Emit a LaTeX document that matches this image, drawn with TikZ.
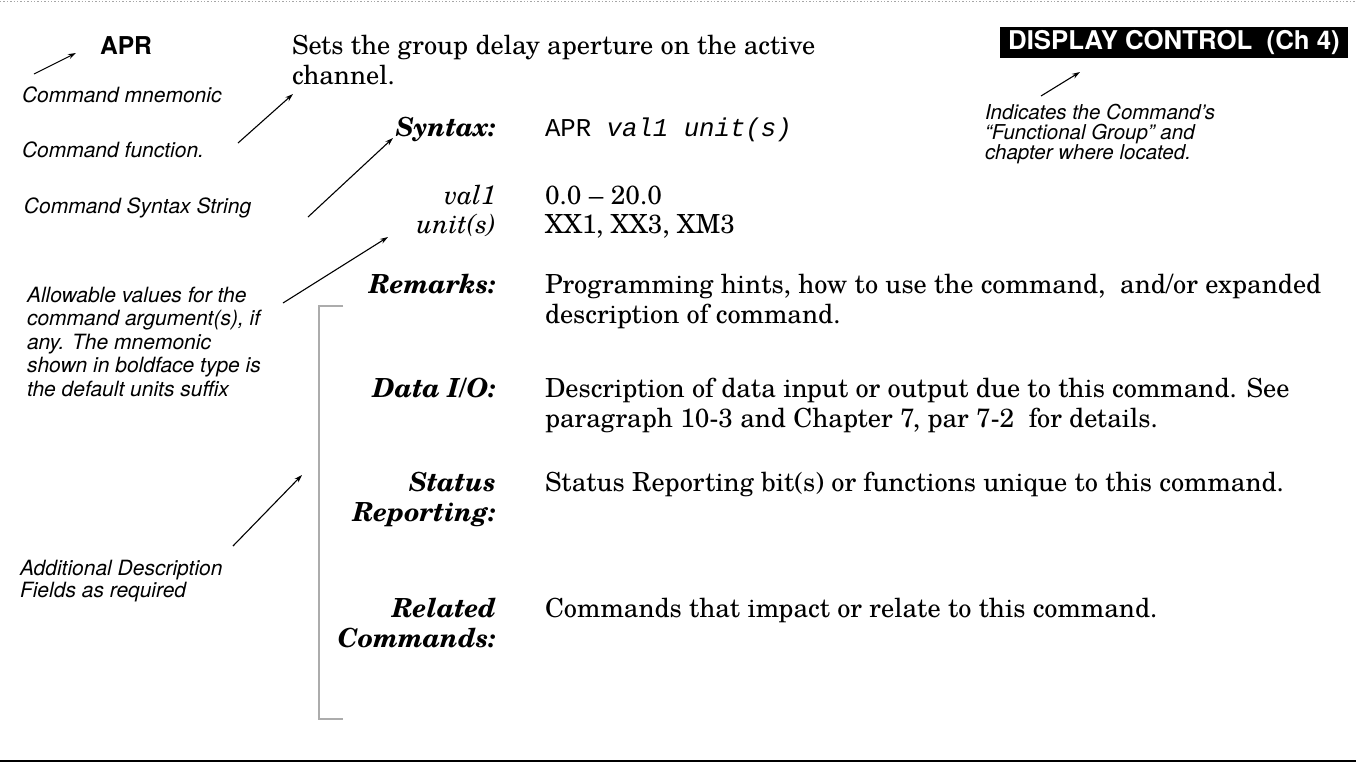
\documentclass[tikz,border=0pt]{standalone}
\usepackage{fontspec}
\setmainfont{TeX Gyre Schola}
\setsansfont{TeX Gyre Heros}
\setmonofont{Liberation Mono}
\usetikzlibrary{arrows.meta}

\begin{document}
\begin{tikzpicture}[x=0.5pt, y=-0.5pt,
  every node/.style={inner sep=0pt, outer sep=0pt},
  % multi-line nodes below are placed by the baseline of their last line
  note/.style={font=\sffamily\itshape\fontsize{10.5}{11.75}\selectfont, align=left, anchor=base west},
  fieldname/.style={font=\rmfamily\bfseries\itshape\fontsize{13.15}{15}\selectfont, align=right, anchor=base east},
  argname/.style={font=\rmfamily\itshape\fontsize{13.15}{15}\selectfont, align=right, anchor=base east},
  body/.style={font=\rmfamily\fontsize{13.15}{15}\selectfont, align=left, anchor=base west},
  ptr/.style={line width=0.55pt, -{Stealth[length=4pt, width=2.6pt]}},
  rule/.style={line width=0.6pt, draw=gray!65}
]
\useasboundingbox (0,0) rectangle (1356,762);
\fill[white] (0,0) rectangle (1356,762);

% page rules
\coordinate (topL) at (0,1.5);   \coordinate (topR) at (1356,1.5);
\coordinate (botL) at (0,760.5); \coordinate (botR) at (1356,760.5);
\draw[gray!70, line width=0.7pt, densely dotted] (topL) -- (topR);
\draw[black, line width=1pt] (botL) -- (botR);

% command mnemonic and function
\node[font=\sffamily\bfseries\fontsize{12.3}{14}\selectfont, anchor=base west] (apr) at (100,54) {APR};
\node[body] (desc) at (292,84) {Sets the group delay aperture on the active\\channel.};

% functional group tag
\node[fill=black, text=white, font=\sffamily\bfseries\fontsize{12.9}{14}\selectfont,
      minimum width=174pt, minimum height=15.5pt, anchor=north west] (grp) at (1000,27)
      {DISPLAY CONTROL~~(Ch~4)};

% explanatory notes
\node[note] (mnem) at (22,102) {Command mnemonic};
\node[note] (func) at (22,157) {Command function.};
\node[note] (synstr) at (24,213) {Command Syntax String};
\node[note] (allow) at (27,396) {Allowable values for the\\command argument(s), if\\any. The mnemonic\\shown in boldface type is\\the default units suffix};
\node[note, font=\sffamily\itshape\fontsize{10.5}{11}\selectfont] (addl) at (20,597) {Additional Description\\Fields as required};
\node[note, font=\sffamily\itshape\fontsize{10.25}{10}\selectfont] (grpnote) at (985,159)
  {Indicates the Command’s\\“Functional Group” and\\chapter where located.};

% description fields
\node[fieldname] (syn) at (496,136) {Syntax:};
\node[anchor=base west, font=\ttfamily\fontsize{12.85}{15}\selectfont] (synval) at (545,136) {APR \textit{val1 unit(s)}};
\node[argname] (v1) at (496,204) {val1};
\node[body] (v1val) at (545,204) {0.0 -- 20.0};
\node[argname] (un) at (496,233) {unit(s)};
\node[body] (unval) at (545,233) {XX1, XX3, XM3};
\node[fieldname] (rem) at (496,293) {Remarks:};
\node[body] (remtxt) at (545,323) {Programming hints, how to use the command,~ and/or expanded\\description of command.};
\node[fieldname] (dio) at (496,397) {Data I/O:};
\node[body] (diotxt) at (545,427) {Description of data input or output due to this command. See\\paragraph 10-3 and Chapter 7, par 7-2~ for details.};
\node[fieldname] (stat) at (496,521) {Status\\Reporting:};
\node[body] (stattxt) at (545,491) {Status Reporting bit(s) or functions unique to this command.};
\node[fieldname] (rel) at (496,647) {Related\\Commands:};
\node[body] (reltxt) at (545,617) {Commands that impact or relate to this command.};

% bracket grouping the additional fields
\coordinate (brTop) at (343,306); \coordinate (brTopC) at (319,306);
\coordinate (brBotC) at (319,719); \coordinate (brBot) at (343,719);
\draw[rule] (brTop) -- (brTopC) -- (brBotC) -- (brBot);

% pointers
\coordinate (p1a) at (34,74);    \coordinate (p1b) at (76,53);
\coordinate (p2a) at (238,143);  \coordinate (p2b) at (293,94);
\coordinate (p3a) at (308,217);  \coordinate (p3b) at (393,138);
\coordinate (p4a) at (283,303);  \coordinate (p4b) at (388,237);
\coordinate (p5a) at (233,546);  \coordinate (p5b) at (302,475);
\coordinate (p6a) at (1041,96);  \coordinate (p6b) at (1080,72);
\draw[ptr] (p1a) -- (p1b);
\draw[ptr] (p2a) -- (p2b);
\draw[ptr] (p3a) -- (p3b);
\draw[ptr] (p4a) -- (p4b);
\draw[ptr] (p5a) -- (p5b);
\draw[ptr] (p6a) -- (p6b);
\end{tikzpicture}
\end{document}
